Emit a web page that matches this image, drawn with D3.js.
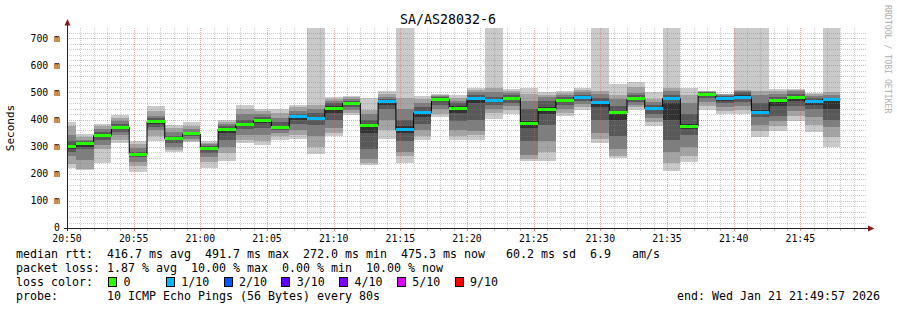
<!DOCTYPE html>
<html lang="en">
<head>
<meta charset="UTF-8">
<title>SA/AS28032-6</title>
<script src="https://d3js.org/d3.v7.min.js"></script>
<style>
  body { margin: 0; background: #fff; }
  svg { display: block; font-family: "DejaVu Sans Mono", monospace; }
  .legend text { white-space: pre; }
</style>
</head>
<body>
<div id="graph"></div>
<script>
const width = 897, height = 310;

// end time of every 80 s step
const times = ["20:50:40","20:52:00","20:53:20","20:54:40","20:56:00","20:57:20","20:58:40","21:00:00",
  "21:01:20","21:02:40","21:04:00","21:05:20","21:06:40","21:08:00","21:09:20","21:10:40","21:12:00",
  "21:13:20","21:14:40","21:16:00","21:17:20","21:18:40","21:20:00","21:21:20","21:22:40","21:24:00",
  "21:25:20","21:26:40","21:28:00","21:29:20","21:30:40","21:32:00","21:33:20","21:34:40","21:36:00",
  "21:37:20","21:38:40","21:40:00","21:41:20","21:42:40","21:44:00","21:45:20","21:46:40","21:48:00"];

// median rtt (ms)
const median = [299,310,341,371,272.0,393,329,347,294,365,381,395,371,411,405,440,460,379,465,362,425,474,
  442,477,469,479,384,437,471,483,462,425,477,441,478,375,491.7,478,483,428,472,480,468,475.3];

// lost pings out of 10
const loss = [0,0,0,0,0,0,0,0,0,0,0,0,0,1,1,0,0,0,1,1,1,0,0,1,1,0,0,0,0,1,1,0,0,1,1,0,0,1,1,1,0,0,1,1];

// sorted ping times (ms), null = lost, smoke goes to the top
const pings = [
  [223,235,265,280,293,303,320,345,375,390],
  [215,218,250,290,300,318,322,326,335,348],
  [241,290,305,325,335,345,355,365,375,383],
  [314,325,345,355,365,375,385,395,405,418],
  [208,227,245,262,268,276,282,295,310,322],
  [320,340,360,372,385,398,405,415,430,449],
  [280,288,300,315,325,332,340,355,370,381],
  [317,322,330,338,345,350,356,365,375,390],
  [223,245,262,275,288,298,303,310,315,320],
  [249,275,300,326,350,368,375,385,392,400],
  [314,326,345,365,378,388,400,420,440,453],
  [307,320,344,370,388,400,410,420,430,440],
  [326,338,350,362,368,378,390,405,425,440],
  [328,345,363,385,400,415,422,430,445,455],
  [272,300,340,380,400,410,425,440,455,null],
  [341,350,370,400,425,450,460,470,476,485],
  [416,425,435,445,455,462,468,475,482,488],
  [231,240,255,290,350,385,400,420,437,480],
  [328,360,400,440,455,468,475,485,495,505],
  [240,265,280,320,350,375,400,440,480,null],
  [323,340,360,385,410,430,445,460,475,486],
  [408,420,440,455,468,478,483,487,490,493],
  [324,338,360,395,425,450,460,470,480,490],
  [326,345,357,400,460,480,490,500,508,517],
  [403,425,440,455,465,472,485,500,517,null],
  [421,435,450,462,472,483,490,498,505,512],
  [246,255,270,320,370,395,440,470,493,518],
  [246,280,320,380,420,445,470,485,492,500],
  [415,425,440,455,465,475,485,492,498,504],
  [435,445,458,470,478,485,492,500,508,517],
  [314,330,351,400,445,465,480,495,505,null],
  [258,265,290,340,400,430,450,475,490,530],
  [437,445,455,465,472,480,490,499,520,538],
  [378,390,405,420,435,445,455,465,475,503],
  [209,241,280,326,400,460,490,505,517,null],
  [242,265,300,344,365,385,420,460,490,515],
  [437,450,465,480,488,495,500,503,505,507],
  [422,432,445,460,470,482,488,492,494,496],
  [419,437,450,465,475,490,500,505,511,null],
  [334,357,380,410,422,435,460,490,505,null],
  [357,375,394,415,450,475,485,495,505,514],
  [394,412,430,450,470,485,495,505,510,514],
  [353,380,410,440,455,470,480,488,494,499],
  [300,335,371,400,440,470,480,490,500,null]
];

const yTicks = [0,100,200,300,400,500,600,700];
const yLabels = ["0","100 m","200 m","300 m","400 m","500 m","600 m","700 m"];
const xLabels = ["20:50","20:55","21:00","21:05","21:10","21:15","21:20","21:25","21:30","21:35","21:40","21:45"];

const lossSteps = [0,1,2,3,4,5,9];
const lossLabels = ["0","1/10","2/10","3/10","4/10","5/10","9/10"];
const lossColors = ["#26ff00","#00b8ff","#0059ff","#5e00ff","#7e00ff","#dd00ff","#ff0000"];
const smokeColors = ["#cacaca","#a4a4a4","#7e7e7e","#585858","#323232"];

const day = "2026-01-21T";
const parse = t => new Date(day + t);
const t0 = parse("20:50:00"), t1 = parse("21:50:00");

const x = d3.scaleTime().domain([t0, t1]).range([67, 867]);
const y = d3.scaleLinear().domain([0, 738]).range([228, 28]);

const svg = d3.select("#graph").append("svg")
  .attr("width", width)
  .attr("height", height);

const bars = times.map((t, i) => {
  const end = parse(t);
  const start = new Date(Math.max(+t0, +end - 80000));
  return { x0: x(start), x1: x(end), median: median[i], loss: loss[i], p: pings[i] };
});

// smoke
const smoke = svg.append("g").attr("shape-rendering", "crispEdges");
bars.forEach(b => {
  for (let k = 0; k < 5; k++) {
    const lo = b.p[k], hi = b.p[9 - k];
    const top = hi == null ? y.range()[1] : y(hi);
    smoke.append("rect")
      .attr("x", b.x0).attr("width", b.x1 - b.x0)
      .attr("y", top).attr("height", y(lo) - top)
      .attr("fill", smokeColors[k]);
  }
});

// grid
const grid = svg.append("g").attr("shape-rendering", "crispEdges");
const minorY = d3.range(20, 738, 20).filter(v => v % 100 !== 0);
grid.selectAll(".hmin").data(minorY).enter().append("line")
  .attr("x1", 67).attr("x2", 867)
  .attr("y1", d => Math.round(y(d)) + 0.5).attr("y2", d => Math.round(y(d)) + 0.5)
  .attr("stroke", "rgba(130,130,130,0.4)").attr("stroke-dasharray", "1,1");
const minorX = d3.timeMinute.range(d3.timeMinute.offset(t0, 1), t1).filter(d => d.getMinutes() % 5 !== 0);
grid.selectAll(".vmin").data(minorX).enter().append("line")
  .attr("y1", 28).attr("y2", 228)
  .attr("x1", d => Math.round(x(d)) + 0.5).attr("x2", d => Math.round(x(d)) + 0.5)
  .attr("stroke", "rgba(130,130,130,0.4)").attr("stroke-dasharray", "1,1");
grid.selectAll(".hmaj").data(yTicks.slice(1)).enter().append("line")
  .attr("x1", 67).attr("x2", 867)
  .attr("y1", d => Math.round(y(d)) + 0.5).attr("y2", d => Math.round(y(d)) + 0.5)
  .attr("stroke", "rgba(232,80,80,0.5)").attr("stroke-dasharray", "1,1");
const majorX = d3.timeMinute.every(5).range(d3.timeMinute.offset(t0, 1), t1);
grid.selectAll(".vmaj").data(majorX).enter().append("line")
  .attr("y1", 28).attr("y2", 228)
  .attr("x1", d => Math.round(x(d)) + 0.5).attr("x2", d => Math.round(x(d)) + 0.5)
  .attr("stroke", "rgba(232,80,80,0.5)").attr("stroke-dasharray", "1,1");

// median step line
const pts = [];
bars.forEach(b => { pts.push([b.x0, y(b.median)]); pts.push([b.x1, y(b.median)]); });
svg.append("path")
  .attr("d", d3.line()(pts))
  .attr("fill", "none").attr("stroke", "#000").attr("stroke-width", 1);

// loss coloured median
svg.append("g").attr("shape-rendering", "crispEdges")
  .selectAll("rect").data(bars).enter().append("rect")
  .attr("x", d => d.x0).attr("width", d => d.x1 - d.x0)
  .attr("y", d => y(d.median) - 1.5).attr("height", 3)
  .attr("fill", d => lossColors[lossSteps.indexOf(d.loss)]);

// axes
const axis = svg.append("g").attr("shape-rendering", "crispEdges");
axis.append("line").attr("x1", 67.5).attr("x2", 67.5).attr("y1", 231).attr("y2", 23).attr("stroke", "#222");
axis.append("line").attr("x1", 64).attr("x2", 869).attr("y1", 228.5).attr("y2", 228.5).attr("stroke", "#222");
svg.append("path").attr("d", "M64.5,25.5 L67.5,19 L70.5,25.5 Z").attr("fill", "#8b1a1a");
svg.append("path").attr("d", "M868,225.5 L874.5,228.5 L868,231.5 Z").attr("fill", "#8b1a1a");

axis.selectAll(".xt").data(d3.timeMinute.range(d3.timeMinute.offset(t0, 1), t1)).enter().append("line")
  .attr("x1", d => Math.round(x(d)) + 0.5).attr("x2", d => Math.round(x(d)) + 0.5)
  .attr("y1", 229).attr("y2", 231)
  .attr("stroke", d => d.getMinutes() % 5 === 0 ? "#e88" : "#bbb");

svg.append("g").selectAll("text").data(yTicks).enter().append("text")
  .attr("x", 60).attr("y", d => y(d)).attr("dy", "0.35em")
  .attr("text-anchor", "end").attr("font-size", 9.8).attr("fill", "#000")
  .text((d, i) => yLabels[i]);

svg.append("g").selectAll("text").data(xLabels).enter().append("text")
  .attr("x", d => x(parse(d + ":00"))).attr("y", 241.5)
  .attr("text-anchor", "middle").attr("font-size", 9.8).attr("fill", "#000")
  .text(d => d);

// title and side labels
svg.append("text").attr("x", 448).attr("y", 23.5).attr("text-anchor", "middle")
  .attr("font-size", 13.3).text("SA/AS28032-6");
svg.append("text").attr("transform", "translate(13.5,128) rotate(-90)")
  .attr("text-anchor", "middle").attr("font-size", 11).text("Seconds");
svg.append("text").attr("transform", "translate(885,5) rotate(90)")
  .attr("font-size", 8.2).attr("fill", "#b0b0b0").text("RRDTOOL / TOBI OETIKER");

// legend
const lg = svg.append("g").attr("class", "legend").attr("font-size", 11.63).attr("fill", "#000");
lg.append("text").attr("x", 16).attr("y", 258)
  .text("median rtt:  416.7 ms avg  491.7 ms max  272.0 ms min  475.3 ms now   60.2 ms sd  6.9   am/s");
lg.append("text").attr("x", 16).attr("y", 272)
  .text("packet loss: 1.87 % avg  10.00 % max  0.00 % min  10.00 % now");
lg.append("text").attr("x", 16).attr("y", 286).text("loss color:");
lossLabels.forEach((l, i) => {
  const bx = 108.5 + i * 57.75;
  lg.append("rect").attr("x", bx).attr("y", 277.5).attr("width", 8).attr("height", 9)
    .attr("fill", lossColors[i]).attr("stroke", "#000").attr("shape-rendering", "crispEdges");
  lg.append("text").attr("x", bx + 15).attr("y", 286).text(l);
});
lg.append("text").attr("x", 16).attr("y", 300).text("probe:");
lg.append("text").attr("x", 107).attr("y", 300).text("10 ICMP Echo Pings (56 Bytes) every 80s");
lg.append("text").attr("x", 880).attr("y", 300).attr("text-anchor", "end")
  .text("end: Wed Jan 21 21:49:57 2026");
</script>
</body>
</html>
